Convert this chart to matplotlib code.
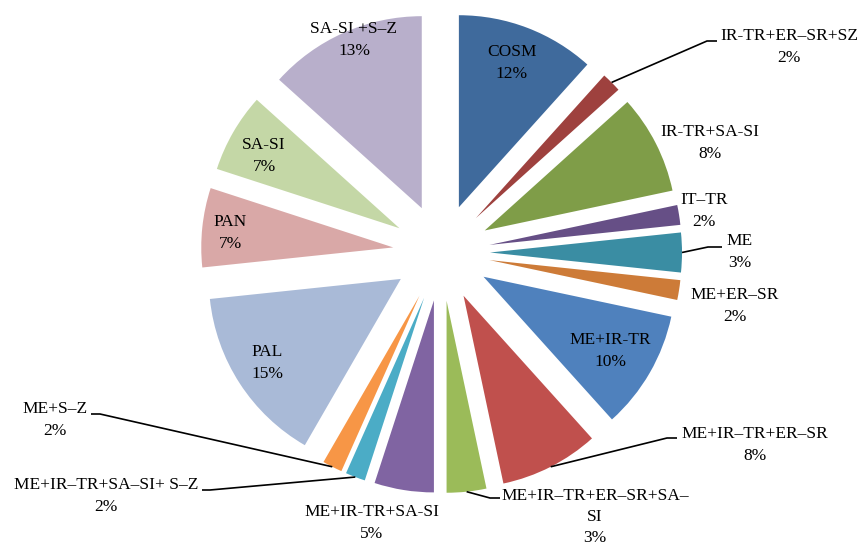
import matplotlib
matplotlib.use("Agg")
import matplotlib.pyplot as plt
import numpy as np

# Land-use classes and number of sites in each
categories = [
    "COSM", "IR-TR+ER–SR+SZ", "IR-TR+SA-SI", "IT–TR", "ME", "ME+ER–SR",
    "ME+IR-TR", "ME+IR–TR+ER–SR", "ME+IR–TR+ER–SR+SA–\nSI", "ME+IR-TR+SA-SI",
    "ME+IR–TR+SA–SI+ S–Z", "ME+S–Z", "PAL", "PAN", "SA-SI", "SA-SI +S–Z",
]
counts = [7, 1, 5, 1, 2, 1, 6, 5, 2, 3, 1, 1, 9, 4, 4, 8]

colors = [
    "#3F6A9C", "#9E413E", "#7F9D48", "#664F86", "#3A8DA3", "#CD7B38",
    "#4F81BD", "#C0504D", "#9BBB59", "#8064A2", "#4BACC6", "#F79646",
    "#A9BAD7", "#D9A8A7", "#C4D7A6", "#B8AFCB",
]

W, H = 867, 544
fig = plt.figure(figsize=(W / 100, H / 100), dpi=100)
ax = fig.add_axes([0, 0, 1, 1])

radius = 192
center = (441.5, H - 252.5)
wedges, _ = ax.pie(
    counts, colors=colors, startangle=90, counterclock=False,
    radius=radius, center=center, explode=[48.5] * len(counts),
    wedgeprops=dict(linewidth=0), frame=True,
)
ax.set_xlim(0, W)
ax.set_ylim(0, H)
ax.set_aspect("equal")
ax.axis("off")

total = sum(counts)
font = dict(family="Liberation Serif", size=12.5, color="#000000")

# label block centres (pixel coordinates, measured from the top)
label_pos = [
    (512, 63), (789, 47), (710, 143), (704, 211), (740, 252), (735, 306),
    (610, 351), (755, 445), (595, 517), (372, 523), (106, 496), (55, 420),
    (267, 363), (230, 233), (264, 156), (354, 40),
]

for i, (name, c) in enumerate(zip(categories, counts)):
    pct = round(100 * c / total)
    x, y = label_pos[i]
    ax.text(x, H - y, f"{name}\n{pct}%", ha="center", va="center",
            multialignment="center", linespacing=1.42, **font)

# leader lines: slice index -> elbow and end points (pixels from the top)
leaders = {
    1: [(707, 41), (717, 41)],
    4: [(708, 247), (722, 247)],
    7: [(667, 438), (677, 438)],
    8: [(490, 498), (500, 498)],
    10: [(210, 490), (202, 490)],
    11: [(100, 414), (91, 414)],
}
for i, pts in leaders.items():
    w = wedges[i]
    mid = np.deg2rad(0.5 * (w.theta1 + w.theta2))
    ax_x = w.center[0] + w.r * np.cos(mid)
    ax_y = w.center[1] + w.r * np.sin(mid)
    xs = [ax_x] + [p[0] for p in pts]
    ys = [ax_y] + [H - p[1] for p in pts]
    ax.plot(xs, ys, color="black", linewidth=1.2, solid_capstyle="butt")

fig.savefig("out.png", dpi=100, facecolor="white")
